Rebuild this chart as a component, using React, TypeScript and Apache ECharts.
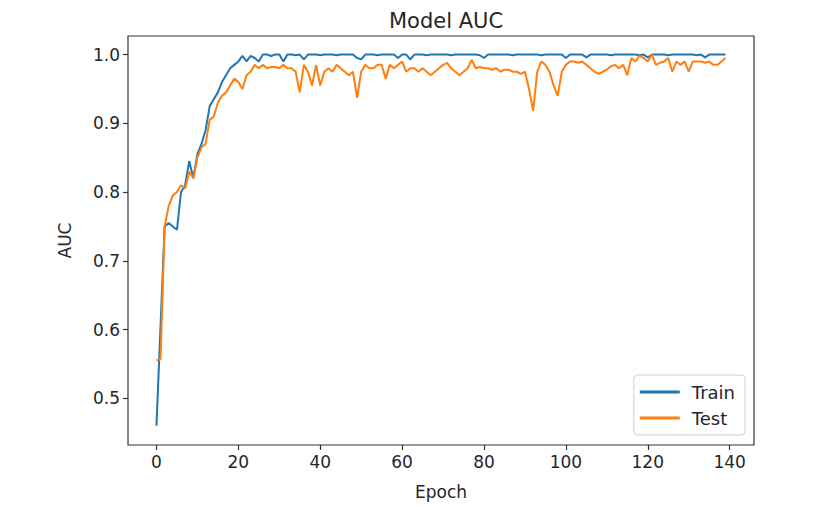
import React, { useEffect, useRef } from "react";
import * as echarts from "echarts";

const title = "Model AUC";
const xName = "Epoch";
const yName = "AUC";
const seriesNames = ["Train", "Test"];
const xTicks = [0, 20, 40, 60, 80, 100, 120, 140];
const yTicks = [0.5, 0.6, 0.7, 0.8, 0.9, 1.0];

const train = [
  0.46, 0.605, 0.75, 0.755, 0.75, 0.745, 0.8, 0.81, 0.845, 0.82,
  0.855, 0.87, 0.89, 0.925, 0.935, 0.945, 0.96, 0.97, 0.98, 0.985,
  0.99, 0.998, 0.99, 0.998, 0.995, 0.99, 1.0, 1.0, 0.998, 1.0,
  1.0, 0.99, 1.0, 1.0, 0.999, 1.0, 0.993, 1.0, 1.0, 1.0,
  0.999, 1.0, 1.0, 1.0, 0.999, 1.0, 1.0, 1.0, 1.0, 0.995,
  0.993, 1.0, 1.0, 1.0, 0.999, 1.0, 1.0, 1.0, 1.0, 0.995,
  1.0, 1.0, 0.993, 1.0, 1.0, 1.0, 0.999, 1.0, 1.0, 1.0,
  1.0, 1.0, 0.999, 1.0, 1.0, 1.0, 1.0, 1.0, 1.0, 0.999,
  0.995, 1.0, 1.0, 1.0, 1.0, 1.0, 1.0, 0.999, 1.0, 1.0,
  1.0, 1.0, 1.0, 1.0, 0.999, 1.0, 1.0, 1.0, 1.0, 1.0,
  0.995, 1.0, 1.0, 1.0, 1.0, 0.996, 1.0, 1.0, 1.0, 1.0,
  1.0, 0.999, 1.0, 1.0, 1.0, 1.0, 1.0, 1.0, 0.999, 1.0,
  0.996, 1.0, 1.0, 1.0, 1.0, 0.999, 1.0, 1.0, 1.0, 1.0,
  1.0, 1.0, 0.999, 1.0, 0.996, 1.0, 1.0, 1.0, 1.0, 1.0,
];

const test = [
  0.555, 0.557, 0.75, 0.78, 0.795, 0.8, 0.81, 0.805, 0.83, 0.82,
  0.85, 0.865, 0.87, 0.905, 0.91, 0.93, 0.94, 0.945, 0.955, 0.965,
  0.96, 0.95, 0.97, 0.975, 0.985, 0.98, 0.985, 0.98, 0.982, 0.982,
  0.98, 0.985, 0.98, 0.98, 0.975, 0.945, 0.985, 0.975, 0.955, 0.985,
  0.955, 0.975, 0.98, 0.975, 0.985, 0.98, 0.975, 0.97, 0.975, 0.937,
  0.975, 0.985, 0.98, 0.98, 0.985, 0.985, 0.965, 0.985, 0.98, 0.985,
  0.99, 0.975, 0.98, 0.98, 0.975, 0.98, 0.975, 0.97, 0.975, 0.98,
  0.985, 0.988, 0.98, 0.975, 0.97, 0.975, 0.98, 0.992, 0.98, 0.982,
  0.98, 0.98, 0.978, 0.98, 0.975, 0.978, 0.978, 0.975, 0.975, 0.972,
  0.975, 0.95, 0.918, 0.975, 0.99, 0.985, 0.975, 0.955, 0.94, 0.975,
  0.985, 0.99, 0.99, 0.988, 0.99, 0.985, 0.98, 0.975, 0.972, 0.975,
  0.978, 0.983, 0.985, 0.98, 0.985, 0.97, 0.995, 0.99, 0.998, 0.995,
  0.99, 1.0, 0.985, 0.988, 0.99, 0.995, 0.975, 0.99, 0.985, 0.99,
  0.975, 0.99, 0.99, 0.99, 0.988, 0.99, 0.985, 0.985, 0.99, 0.995,
];

const colors = ["#1f77b4", "#ff7f0e"];
const FONT = "DejaVu Sans";
const TEXT = "#262626";

export default function App() {
  const ref = useRef<HTMLDivElement>(null);

  useEffect(() => {
    document.body.style.margin = "0";
    const chart = echarts.init(ref.current!, null, { renderer: "svg" });
    const xs = train.map((_, i) => i);
    chart.setOption({
      animation: false,
      backgroundColor: "#ffffff",
      title: {
        text: title,
        left: 441,
        top: 5,
        textAlign: "center",
        textStyle: { fontFamily: FONT, fontSize: 21, fontWeight: "normal", color: TEXT },
      },
      grid: {
        left: 128,
        right: 84,
        top: 36,
        bottom: 65,
        show: true,
        borderColor: "#333333",
        borderWidth: 1.2,
        backgroundColor: "transparent",
      },
      legend: {
        data: seriesNames,
        orient: "vertical",
        right: 93,
        bottom: 75,
        icon: "rect",
        itemWidth: 40,
        itemHeight: 3,
        itemGap: 8,
        padding: [8, 10, 8, 6],
        backgroundColor: "#ffffff",
        borderColor: "#d0d0d0",
        borderWidth: 1,
        borderRadius: 4,
        textStyle: { fontFamily: FONT, fontSize: 18, color: TEXT, padding: [0, 0, 0, 7] },
      },
      xAxis: {
        type: "value",
        min: -6.95,
        max: 145.95,
        name: xName,
        nameLocation: "middle",
        nameGap: 38,
        nameTextStyle: { fontFamily: FONT, fontSize: 17, color: TEXT },
        axisLine: { show: false, onZero: false },
        splitLine: { show: false },
        axisTick: {
          show: true,
          length: 5,
          customValues: xTicks,
          lineStyle: { color: "#333333", width: 1.2 },
        },
        axisLabel: {
          customValues: xTicks,
          fontFamily: FONT,
          fontSize: 17,
          color: TEXT,
          margin: 8,
          formatter: (v: number) => String(Math.round(v)),
        },
      },
      yAxis: {
        type: "value",
        min: 0.432,
        max: 1.027,
        name: yName,
        nameLocation: "middle",
        nameGap: 55,
        nameTextStyle: { fontFamily: FONT, fontSize: 17, color: TEXT },
        axisLine: { show: false, onZero: false },
        splitLine: { show: false },
        axisTick: {
          show: true,
          length: 5,
          customValues: yTicks,
          lineStyle: { color: "#333333", width: 1.2 },
        },
        axisLabel: {
          customValues: yTicks,
          fontFamily: FONT,
          fontSize: 17,
          color: TEXT,
          margin: 8,
          formatter: (v: number) => v.toFixed(1),
        },
      },
      series: [
        {
          name: seriesNames[0],
          type: "line",
          data: xs.map((x) => [x, train[x]]),
          showSymbol: false,
          symbol: "none",
          lineStyle: { color: colors[0], width: 2 },
          itemStyle: { color: colors[0] },
        },
        {
          name: seriesNames[1],
          type: "line",
          data: xs.map((x) => [x, test[x]]),
          showSymbol: false,
          symbol: "none",
          lineStyle: { color: colors[1], width: 2 },
          itemStyle: { color: colors[1] },
        },
      ],
    });
    return () => chart.dispose();
  }, []);

  return (
    <div
      ref={ref}
      style={{ position: "fixed", left: 0, top: 0, width: 838, height: 510 }}
    />
  );
}
